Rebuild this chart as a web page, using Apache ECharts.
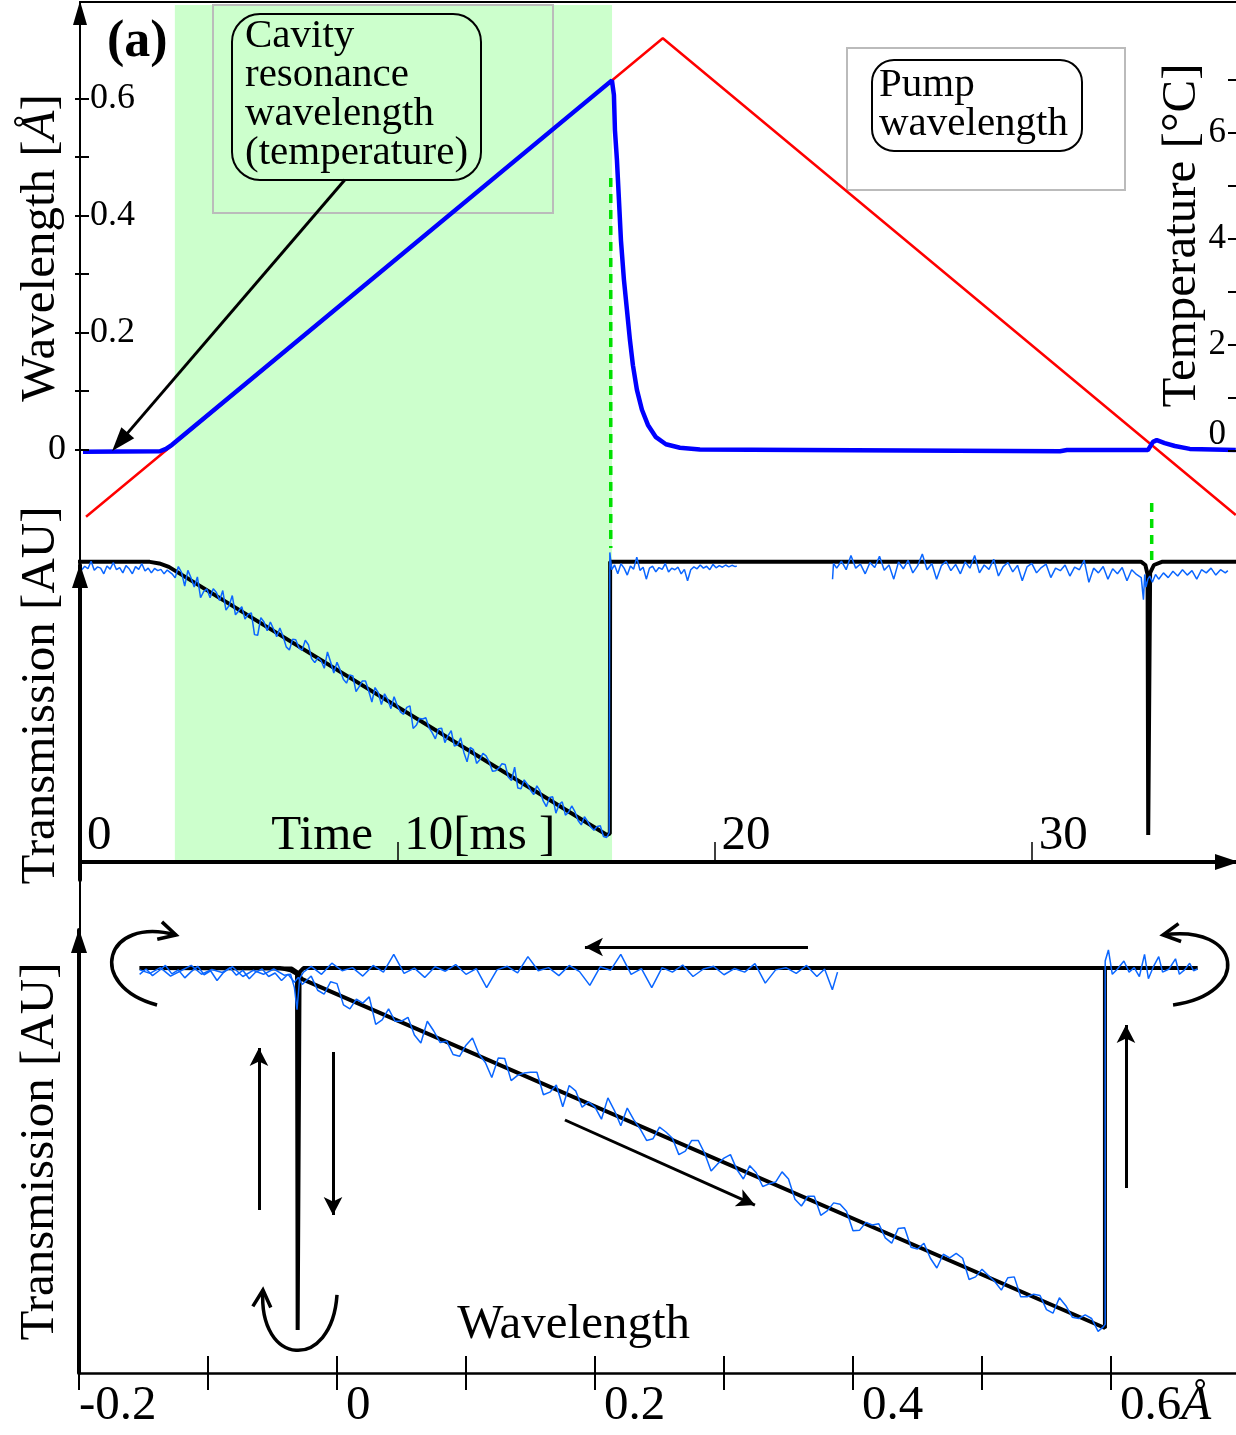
<!DOCTYPE html>
<html>
<head>
<meta charset="utf-8">
<script src="https://cdn.jsdelivr.net/npm/echarts@6/dist/echarts.min.js"></script>
<style>
html, body { margin: 0; padding: 0; background: #fff; }
#main { width: 1236px; height: 1435px; }
</style>
</head>
<body>
<div id="main"></div>
<script>
var FONT = 'Liberation Serif';
var dom = document.getElementById('main');
var chart = echarts.init(dom, null, { renderer: 'canvas' });

// tick labels
var timeTicks = [0, 10, 20, 30];
var timeTickText = ['0', '10[ms ]', '20', '30'];
var waveTicks = [-0.2, 0, 0.2, 0.4, 0.6];
var waveTickText = ['-0.2', '{p|0}', '{p|0.2}', '{p|0.4}', '{p|0.6}{i|Å}'];
var leftWaveTicks = [0.2, 0.4, 0.6];
var tempTicks = [0, 2, 4, 6];
var tempTickText = ['{z|0}', '2', '4', '6'];

// top panel: [time ms, wavelength A]
var pumpWavelength = [[0.19, -0.115], [18.37, 0.703], [36.43, -0.112]];
var cavityWavelength = [[0.095, -0.004], [2.52, -0.003], [2.71, 0.001], [2.90, 0.008], [16.766, 0.631],
  [16.829, 0.606], [16.861, 0.546], [16.924, 0.495], [16.987, 0.427], [17.05, 0.358], [17.145, 0.29],
  [17.239, 0.239], [17.334, 0.187], [17.428, 0.144], [17.554, 0.102], [17.712, 0.068], [17.901, 0.042],
  [18.153, 0.021], [18.468, 0.009], [18.91, 0.003], [19.54, 0.0], [30.89, -0.003], [31.11, -0.001],
  [33.66, -0.001], [33.82, 0.013], [33.94, 0.016], [34.19, 0.011], [34.51, 0.006], [34.98, 0.001], [36.43, -0.001]];

// middle panel: [time ms, transmission AU]
var transBlack = [[-0.15, 1.01], [2.2, 1.01], [2.5, 1.005], [2.8, 0.994], [16.61, 0.143], [16.70, 0.148],
  [16.71, 1.01], [33.45, 1.01], [33.58, 1.0], [33.65, 0.97], [33.67, 0.143], [33.71, 0.143], [33.73, 0.975],
  [33.85, 1.0], [34.1, 1.01], [36.5, 1.01]];
var transBlueA = [[-0.15,0.99],[-0.05,1.003],[0.05,0.984],[0.15,0.996],[0.25,0.988],[0.35,1.012],[0.45,0.983],[0.55,0.994],[0.65,0.99],[0.75,0.972],[0.85,0.997],[0.95,0.987],[1.05,1.008],[1.15,0.985],[1.25,0.992],[1.35,0.975],[1.45,0.998],[1.55,0.988],[1.65,0.972],[1.75,0.995],[1.85,0.986],[1.95,1.004],[2.05,0.981],[2.15,0.99],[2.25,0.975],[2.35,0.989],[2.45,0.982],[2.55,0.986],[2.65,0.972],[2.75,0.984],
  [2.8,0.988],[2.9,0.972],[3.0,0.959],[3.1,0.995],[3.2,0.977],[3.3,0.933],[3.4,0.983],[3.5,0.959],[3.6,0.93],[3.7,0.962],[3.8,0.896],[3.9,0.916],[4.0,0.924],[4.1,0.896],[4.2,0.925],[4.3,0.913],[4.4,0.887],[4.5,0.919],[4.6,0.857],[4.7,0.871],[4.8,0.903],[4.9,0.842],[5.0,0.854],[5.1,0.868],[5.2,0.828],[5.3,0.844],[5.4,0.848],[5.5,0.779],[5.6,0.777],[5.7,0.833],[5.8,0.819],[5.9,0.791],[6.0,0.819],[6.1,0.797],[6.2,0.772],[6.3,0.8],[6.4,0.774],[6.5,0.74],[6.6,0.73],[6.7,0.764],[6.8,0.763],[6.9,0.737],[7.0,0.729],[7.1,0.761],[7.2,0.747],[7.3,0.703],[7.4,0.69],[7.5,0.706],[7.6,0.696],[7.7,0.672],[7.8,0.724],[7.9,0.692],[8.0,0.657],[8.1,0.691],[8.2,0.667],[8.3,0.637],[8.4,0.625],[8.5,0.651],[8.6,0.648],[8.7,0.598],[8.8,0.614],[8.9,0.632],[9.0,0.632],[9.1,0.6],[9.2,0.565],[9.3,0.611],[9.4,0.595],[9.5,0.557],[9.6,0.591],[9.7,0.573],[9.8,0.544],[9.9,0.582],[10.0,0.554],[10.1,0.534],[10.2,0.526],[10.3,0.548],[10.4,0.553],[10.5,0.481],[10.6,0.491],[10.7,0.513],[10.8,0.511],[10.9,0.515],[11.0,0.484],[11.1,0.468],[11.2,0.448],[11.3,0.48],[11.4,0.482],[11.5,0.436],[11.6,0.458],[11.7,0.474],[11.8,0.425],[11.9,0.429],[12.0,0.451],[12.1,0.405],[12.2,0.375],[12.3,0.421],[12.4,0.414],[12.5,0.37],[12.6,0.382],[12.7,0.402],[12.8,0.394],[12.9,0.374],[13.0,0.345],[13.1,0.347],[13.2,0.355],[13.3,0.369],[13.4,0.367],[13.5,0.327],[13.6,0.316],[13.7,0.358],[13.8,0.292],[13.9,0.29],[14.0,0.318],[14.1,0.304],[14.2,0.285],[14.3,0.271],[14.4,0.299],[14.5,0.283],[14.6,0.251],[14.7,0.233],[14.8,0.262],[14.9,0.264],[15.0,0.212],[15.1,0.24],[15.2,0.248],[15.3,0.206],[15.4,0.215],[15.5,0.235],[15.6,0.217],[15.7,0.189],[15.8,0.175],[15.9,0.201],[16.0,0.186],[16.1,0.168],[16.2,0.158],[16.3,0.17],[16.4,0.172],[16.5,0.138],[16.6,0.135],[16.68,0.15],[16.7,1.04],
  [16.72,1.045],[16.76,0.985],[16.85,1.0],[16.95,0.972],[17.05,1.004],[17.15,0.99],[17.25,0.968],[17.35,0.997],[17.45,0.987],[17.55,1.025],[17.65,0.983],[17.75,0.993],[17.85,0.955],[17.95,0.99],[18.05,0.996],[18.15,0.978],[18.25,0.992],[18.35,0.986],[18.45,1.005],[18.55,0.978],[18.65,0.99],[18.75,0.985],[18.85,0.993],[18.95,0.972],[19.05,0.986],[19.15,0.95],[19.25,0.985],[19.35,0.994],[19.45,0.988],[19.55,1.0],[19.65,0.99],[19.75,0.996],[19.85,0.985],[19.95,1.002],[20.05,0.991],[20.15,0.998],[20.25,0.993],[20.35,1.0],[20.45,0.994],[20.55,0.999],[20.65,0.995],[20.7,0.997]];
var transBlueB = [[23.72,0.955],[23.75,1.005],[23.85,0.99],[24.0,1.012],[24.15,0.985],[24.3,1.03],[24.45,0.99],[24.6,1.003],[24.75,0.972],[24.9,1.008],[25.05,0.992],[25.2,1.028],[25.35,0.983],[25.5,1.0],[25.65,0.955],[25.8,1.01],[25.95,0.988],[26.1,1.015],[26.25,0.975],[26.4,0.997],[26.55,1.035],[26.7,0.985],[26.85,1.005],[27.0,0.955],[27.15,0.998],[27.3,1.012],[27.45,0.982],[27.6,1.002],[27.75,0.972],[27.9,1.01],[28.05,0.99],[28.2,1.03],[28.35,0.975],[28.5,1.0],[28.65,0.986],[28.8,1.018],[28.95,0.965],[29.1,0.995],[29.25,1.008],[29.4,0.978],[29.55,0.999],[29.7,0.95],[29.85,0.994],[30.0,1.005],[30.15,0.975],[30.3,0.992],[30.45,1.003],[30.6,0.96],[30.75,0.99],[30.9,0.982],[31.05,1.0],[31.2,0.965],[31.35,0.993],[31.5,0.985],[31.65,1.015],[31.8,0.945],[31.95,0.99],[32.1,0.975],[32.25,0.995],[32.4,0.955],[32.55,0.988],[32.7,0.972],[32.85,0.992],[33.0,0.95],[33.15,0.985],[33.3,0.97],[33.45,0.96],[33.52,0.89],[33.56,0.97],[33.6,0.93],[33.66,0.955],[33.72,0.965],[33.8,0.945],[33.9,0.97],[34.0,0.955],[34.15,0.975],[34.3,0.96],[34.45,0.98],[34.6,0.965],[34.75,0.985],[34.9,0.968],[35.05,0.982],[35.2,0.955],[35.35,0.985],[35.5,0.975],[35.65,0.99],[35.8,0.968],[35.95,0.985],[36.1,0.975],[36.18,0.982]];

// bottom panel: [wavelength A, transmission AU]
var loopBlackUp = [[-0.153, 0.914], [-0.044, 0.914], [-0.036, 0.909], [-0.03, 0.899], [-0.027, 0.889],
  [0.5953, 0.1016], [0.5953, 0.914], [0.667, 0.914]];
var loopBlackDown = [[-0.153, 0.914], [-0.035, 0.913], [-0.031, 0.905], [-0.0305, 0.097], [-0.0295, 0.097],
  [-0.029, 0.905], [-0.026, 0.914], [0.667, 0.914]];
var loopBlueUp = [[-0.153,0.9],[-0.148,0.912],[-0.143,0.897],[-0.138,0.908],[-0.133,0.92],[-0.128,0.901],[-0.123,0.91],[-0.118,0.892],[-0.113,0.906],[-0.108,0.918],[-0.103,0.899],[-0.098,0.908],[-0.093,0.886],[-0.088,0.904],[-0.083,0.915],[-0.078,0.898],[-0.073,0.909],[-0.068,0.89],[-0.063,0.905],[-0.058,0.912],[-0.053,0.895],[-0.048,0.903],[-0.043,0.886],[-0.038,0.9],[-0.033,0.882],[-0.03,0.893],[-0.027,0.877],
  [-0.02,0.896],[-0.015,0.864],[-0.01,0.855],[-0.005,0.883],[0,0.879],[0.005,0.831],[0.01,0.822],[0.015,0.844],[0.02,0.835],[0.025,0.849],[0.03,0.787],[0.035,0.797],[0.04,0.822],[0.045,0.794],[0.05,0.794],[0.055,0.803],[0.06,0.763],[0.065,0.745],[0.07,0.794],[0.075,0.772],[0.08,0.746],[0.085,0.749],[0.09,0.719],[0.095,0.715],[0.1,0.74],[0.105,0.756],[0.11,0.72],[0.115,0.701],[0.12,0.667],[0.125,0.711],[0.13,0.71],[0.135,0.66],[0.14,0.672],[0.145,0.677],[0.15,0.679],[0.155,0.679],[0.16,0.628],[0.165,0.634],[0.17,0.65],[0.175,0.601],[0.18,0.649],[0.185,0.637],[0.19,0.6],[0.195,0.612],[0.2,0.6],[0.205,0.573],[0.21,0.621],[0.215,0.593],[0.22,0.558],[0.225,0.598],[0.23,0.572],[0.235,0.551],[0.24,0.525],[0.245,0.529],[0.25,0.555],[0.255,0.544],[0.26,0.53],[0.265,0.493],[0.27,0.501],[0.275,0.525],[0.28,0.525],[0.285,0.496],[0.29,0.456],[0.295,0.472],[0.3,0.485],[0.305,0.493],[0.31,0.459],[0.315,0.438],[0.32,0.468],[0.325,0.452],[0.33,0.421],[0.335,0.427],[0.34,0.431],[0.345,0.454],[0.35,0.438],[0.355,0.392],[0.36,0.377],[0.365,0.399],[0.37,0.399],[0.375,0.356],[0.38,0.366],[0.385,0.384],[0.39,0.381],[0.395,0.365],[0.4,0.321],[0.405,0.322],[0.41,0.34],[0.415,0.334],[0.42,0.337],[0.425,0.305],[0.43,0.293],[0.435,0.326],[0.44,0.328],[0.445,0.284],[0.45,0.28],[0.455,0.293],[0.46,0.259],[0.465,0.237],[0.47,0.268],[0.475,0.26],[0.48,0.27],[0.485,0.259],[0.49,0.211],[0.495,0.217],[0.5,0.234],[0.505,0.22],[0.51,0.206],[0.515,0.187],[0.52,0.215],[0.525,0.217],[0.53,0.172],[0.535,0.172],[0.54,0.178],[0.545,0.175],[0.55,0.143],[0.555,0.135],[0.56,0.17],[0.565,0.152],[0.57,0.126],[0.575,0.123],[0.58,0.131],[0.585,0.123],[0.59,0.094],[0.594,0.104],[0.5955,0.11],[0.5955,0.93],
  [0.598,0.955],[0.601,0.9],[0.605,0.912],[0.61,0.93],[0.614,0.905],[0.618,0.915],[0.622,0.895],[0.626,0.945],[0.629,0.89],[0.633,0.918],[0.637,0.94],[0.64,0.905],[0.645,0.912],[0.65,0.935],[0.653,0.9],[0.657,0.91],[0.661,0.925],[0.664,0.908],[0.667,0.912]];
var loopBlueDown = [[-0.153,0.91],[-0.145,0.902],[-0.137,0.915],[-0.129,0.896],[-0.121,0.908],[-0.113,0.92],[-0.105,0.9],[-0.097,0.911],[-0.089,0.904],[-0.081,0.917],[-0.073,0.895],[-0.065,0.909],[-0.057,0.9],[-0.049,0.912],[-0.041,0.898],[-0.036,0.9],[-0.033,0.87],[-0.031,0.82],[-0.029,0.89],[-0.026,0.905],
  [-0.02,0.918],[-0.012,0.9],[-0.004,0.925],[0.004,0.908],[0.012,0.915],[0.02,0.896],[0.028,0.92],[0.036,0.905],[0.044,0.945],[0.052,0.902],[0.06,0.914],[0.068,0.893],[0.076,0.917],[0.084,0.907],[0.092,0.922],[0.1,0.9],[0.108,0.913],[0.116,0.87],[0.124,0.91],[0.132,0.918],[0.14,0.903],[0.148,0.94],[0.156,0.908],[0.164,0.915],[0.172,0.897],[0.18,0.92],[0.188,0.906],[0.196,0.875],[0.204,0.917],[0.212,0.909],[0.22,0.945],[0.228,0.9],[0.236,0.913],[0.244,0.87],[0.252,0.915],[0.26,0.905],[0.268,0.921],[0.276,0.895],[0.284,0.912],[0.292,0.918],[0.3,0.899],[0.308,0.913],[0.316,0.905],[0.324,0.924],[0.332,0.88],[0.34,0.91],[0.348,0.915],[0.356,0.902],[0.364,0.92],[0.372,0.895],[0.378,0.912],[0.384,0.865],[0.388,0.905]];

// annotations (data coordinates)
var greenZone = [2.99, 16.77];
var dashA = [[16.73, 0.8103], [16.73, 0.4116]];
var dashB = [[33.78, 0.4601], [33.78, 0.3987]];
var topArrows = [[[8.35, 0.461], [1.26, 0.013]], [[24.96, 0.603], [23.42, 0.495]]];
var loopArrows = [[[0.3651, 0.9616], [0.1922, 0.9616]], [[-0.0605, 0.368], [-0.0605, 0.7336]],
  [[-0.0031, 0.7246], [-0.0031, 0.3567]], [[0.1767, 0.5711], [0.324, 0.3792]], [[0.6116, 0.4176], [0.6116, 0.7856]]];
// [start, end, bulge relative to chord (sign = side)]
var loopTurns = [[[-0.1395, 0.8307], [-0.1248, 0.9887], 0.77], [[0.6481, 0.8307], [0.6403, 0.9887], -0.85],
  [[0.0, 0.1761], [-0.0574, 0.1874], 0.78]];

function findLabel(v, ticks, texts) {
  for (var i = 0; i < ticks.length; i++) {
    if (Math.abs(ticks[i] - v) < 1e-6) return texts[i];
  }
  return '';
}

function arrowLines(list) {
  return list.map(function (p) { return [{ coord: p[0] }, { coord: p[1] }]; });
}

var blk = '#000';
var blueNoise = '#0a66ff';
var option = {
  animation: false,
  backgroundColor: '#fff',
  textStyle: { fontFamily: FONT, color: blk },
  grid: [
    { left: 80, top: 2, width: 1158, height: 928, outerBoundsMode: 'none' },
    { left: 80, top: 98.5, width: 1158, height: 351, outerBoundsMode: 'none' },
    { left: 80, right: 0, top: 80, height: 371, outerBoundsMode: 'none' },
    { left: 80, top: 565, width: 1158, height: 315, outerBoundsMode: 'none' },
    { left: 79, top: 930, width: 1161, height: 443, outerBoundsMode: 'none' }
  ],
  xAxis: [
    { gridIndex: 0, type: 'value', min: 0, max: 36.5, position: 'top', z: 5,
      axisLine: { show: true, onZero: false, lineStyle: { color: blk, width: 2 } },
      axisTick: { show: false }, axisLabel: { show: false }, splitLine: { show: false } },
    { gridIndex: 1, type: 'value', min: 0, max: 36.5, show: false },
    { gridIndex: 2, type: 'value', min: 0, max: 1, show: false },
    { gridIndex: 3, type: 'value', min: 0, max: 36.5, interval: 10, position: 'bottom', offset: -18, z: 5,
      name: 'Time', nameLocation: 'start', nameGap: -293, nameMoveOverlap: false,
      nameTextStyle: { fontSize: 49, color: blk, fontFamily: FONT, verticalAlign: 'bottom', lineHeight: 48, padding: [0, 0, 2, 0] },
      axisLine: { show: true, onZero: false, symbol: ['none', 'triangle'], symbolSize: [16, 24], symbolOffset: [0, -11],
        lineStyle: { color: blk, width: 4 } },
      axisTick: { show: true, inside: true, length: 20, lineStyle: { color: blk, width: 1.5 } },
      axisLabel: { show: true, inside: true, margin: 2, align: 'left', verticalAlign: 'bottom', padding: [0, 0, 0, 7],
        fontSize: 49, lineHeight: 48, color: blk, fontFamily: FONT,
        formatter: function (v) { return findLabel(v, timeTicks, timeTickText); } },
      splitLine: { show: false } },
    { gridIndex: 4, type: 'value', min: -0.2, max: 0.7, interval: 0.1, position: 'bottom', z: 5,
      name: 'Wavelength', nameLocation: 'start', nameGap: -611, nameMoveOverlap: false,
      nameTextStyle: { fontSize: 49, color: blk, fontFamily: FONT, verticalAlign: 'bottom', lineHeight: 48, padding: [0, 0, 24, 0] },
      axisLine: { show: true, onZero: false, lineStyle: { color: blk, width: 2.5 } },
      axisTick: { show: true, inside: false, length: 17, lineStyle: { color: blk, width: 2 } },
      axisLabel: { show: true, margin: 9, align: 'left', verticalAlign: 'top',
        fontSize: 49, lineHeight: 48, color: blk, fontFamily: FONT,
        rich: { p: { padding: [0, 0, 0, 9], fontSize: 49, fontFamily: FONT, color: blk },
          i: { fontStyle: 'italic', fontSize: 49, fontFamily: FONT, color: blk } },
        formatter: function (v) { return findLabel(v, waveTicks, waveTickText); } },
      splitLine: { show: false } },
    { gridIndex: 4, type: 'value', min: -0.2, max: 0.7, interval: 0.1, position: 'bottom', z: 5,
      axisLine: { show: false, onZero: false },
      axisTick: { show: true, inside: true, length: 17, lineStyle: { color: blk, width: 2 } },
      axisLabel: { show: false }, splitLine: { show: false } }
  ],
  yAxis: [
    { gridIndex: 0, type: 'value', min: 0, max: 1, position: 'left', z: 5,
      axisLine: { show: true, onZero: false, symbol: ['none', 'triangle'], symbolSize: [14, 24], symbolOffset: [0, -11],
        lineStyle: { color: blk, width: 2 } },
      axisTick: { show: false }, axisLabel: { show: false }, splitLine: { show: false } },
    { gridIndex: 1, type: 'value', min: 0, max: 0.6, interval: 0.1, position: 'left', z: 5,
      name: 'Wavelength [{i|Å}]', nameLocation: 'middle', nameGap: 14, nameMoveOverlap: false,
      nameTextStyle: { fontSize: 49, color: blk, fontFamily: FONT, padding: [0, 0, 0, 52],
        rich: { i: { fontStyle: 'italic', fontSize: 49, fontFamily: FONT, color: blk } } },
      axisLine: { show: false, onZero: false },
      axisTick: { show: true, inside: true, length: 9, lineStyle: { color: blk, width: 2 } },
      axisLabel: { show: true, inside: true, margin: 10, fontSize: 36, color: blk, fontFamily: FONT,
        formatter: function (v) { return findLabel(v, leftWaveTicks, ['0.2', '0.4', '0.6']); } },
      splitLine: { show: false } },
    { gridIndex: 1, type: 'value', min: 0, max: 0.6, interval: 0.1, position: 'left', z: 5,
      axisLine: { show: false, onZero: false },
      axisTick: { show: true, inside: false, length: 5, lineStyle: { color: blk, width: 2 } },
      axisLabel: { show: true, margin: 14, fontSize: 36, color: blk, fontFamily: FONT,
        formatter: function (v) { return findLabel(v, [0], ['0']); } },
      splitLine: { show: false } },
    { gridIndex: 2, type: 'value', min: 0, max: 7, interval: 1, position: 'right', z: 5,
      name: 'Temperature [°C]', nameLocation: 'middle', nameGap: -78, nameMoveOverlap: false,
      nameTextStyle: { fontSize: 49, color: blk, fontFamily: FONT, padding: [0, 0, 0, 60] },
      axisLine: { show: false, onZero: false },
      axisTick: { show: true, inside: true, length: 8, lineStyle: { color: blk, width: 2 } },
      axisLabel: { show: true, inside: true, margin: 10, fontSize: 35, color: blk, fontFamily: FONT,
        rich: { z: { padding: [0, 0, 32, 0], fontSize: 35, fontFamily: FONT, color: blk } },
        formatter: function (v) { return findLabel(v, tempTicks, tempTickText); } },
      splitLine: { show: false } },
    { gridIndex: 3, type: 'value', min: 0, max: 1, position: 'left', z: 5,
      name: 'Transmission [AU]', nameLocation: 'middle', nameGap: 14, nameMoveOverlap: false,
      nameTextStyle: { fontSize: 49, color: blk, fontFamily: FONT, padding: [0, 0, 0, 54] },
      axisLine: { show: true, onZero: false, symbol: ['none', 'triangle'], symbolSize: [16, 24], symbolOffset: [0, -11],
        lineStyle: { color: blk, width: 4 } },
      axisTick: { show: false }, axisLabel: { show: false }, splitLine: { show: false } },
    { gridIndex: 4, type: 'value', min: 0, max: 1, position: 'left', z: 5,
      name: 'Transmission [AU]', nameLocation: 'middle', nameGap: 14, nameMoveOverlap: false,
      nameTextStyle: { fontSize: 49, color: blk, fontFamily: FONT, padding: [0, 0, 0, 0] },
      axisLine: { show: true, onZero: false, symbol: ['none', 'triangle'], symbolSize: [16, 24], symbolOffset: [0, -11],
        lineStyle: { color: blk, width: 4 } },
      axisTick: { show: false }, axisLabel: { show: false }, splitLine: { show: false } }
  ],
  series: [
    { type: 'line', xAxisIndex: 0, yAxisIndex: 0, data: dashA, showSymbol: false, symbol: 'none', silent: true, z: 3,
      lineStyle: { color: '#00e000', width: 3.5, type: [9, 7] },
      markArea: { silent: true, z: 0, itemStyle: { color: '#ccffcc' },
        data: [[{ xAxis: greenZone[0], yAxis: 0.0733 }, { xAxis: greenZone[1], yAxis: 0.9968 }]] } },
    { type: 'line', xAxisIndex: 0, yAxisIndex: 0, data: dashB, showSymbol: false, symbol: 'none', silent: true, z: 3,
      lineStyle: { color: '#00e000', width: 3.5, type: [9, 7] } },
    { type: 'line', xAxisIndex: 1, yAxisIndex: 1, data: pumpWavelength, showSymbol: false, symbol: 'none', silent: true,
      clip: false, z: 2, lineStyle: { color: '#ff0000', width: 2.5 },
      markLine: { silent: true, symbol: ['none', 'triangle'], symbolSize: [17, 24], label: { show: false },
        lineStyle: { color: blk, width: 3, type: 'solid' }, data: arrowLines(topArrows) } },
    { type: 'line', xAxisIndex: 1, yAxisIndex: 1, data: cavityWavelength, showSymbol: false, symbol: 'none', silent: true,
      clip: false, z: 3, lineStyle: { color: '#0000ff', width: 4.5 } },
    { type: 'line', xAxisIndex: 3, yAxisIndex: 4, data: transBlack, showSymbol: false, symbol: 'none', silent: true,
      clip: false, z: 2, lineStyle: { color: blk, width: 4 } },
    { type: 'line', xAxisIndex: 3, yAxisIndex: 4, data: transBlueA, showSymbol: false, symbol: 'none', silent: true,
      clip: false, z: 3, lineStyle: { color: blueNoise, width: 1.5 } },
    { type: 'line', xAxisIndex: 3, yAxisIndex: 4, data: transBlueB, showSymbol: false, symbol: 'none', silent: true,
      clip: false, z: 3, lineStyle: { color: blueNoise, width: 1.5 } },
    { type: 'line', xAxisIndex: 4, yAxisIndex: 5, data: loopBlackUp, showSymbol: false, symbol: 'none', silent: true,
      clip: false, z: 2, lineStyle: { color: blk, width: 4 },
      markLine: { silent: true, symbol: ['none', 'arrow'], symbolSize: [14, 18], label: { show: false },
        lineStyle: { color: blk, width: 3, type: 'solid' }, data: arrowLines(loopArrows) } },
    { type: 'line', xAxisIndex: 4, yAxisIndex: 5, data: loopBlackDown, showSymbol: false, symbol: 'none', silent: true,
      clip: false, z: 2, lineStyle: { color: blk, width: 4 } },
    { type: 'line', xAxisIndex: 4, yAxisIndex: 5, data: loopBlueUp, showSymbol: false, symbol: 'none', silent: true,
      clip: false, z: 3, lineStyle: { color: blueNoise, width: 1.5 } },
    { type: 'line', xAxisIndex: 4, yAxisIndex: 5, data: loopBlueDown, showSymbol: false, symbol: 'none', silent: true,
      clip: false, z: 3, lineStyle: { color: blueNoise, width: 1.5 } }
  ],
  graphic: [
    { id: 'box1', type: 'rect', z: 1, silent: true, shape: { x: 213, y: 5, width: 340, height: 208 },
      style: { fill: 'none', stroke: '#bbbbbb', lineWidth: 2 } },
    { id: 'box2', type: 'rect', z: 1, silent: true, shape: { x: 847, y: 48, width: 278, height: 142 },
      style: { fill: 'none', stroke: '#bbbbbb', lineWidth: 2 } },
    { id: 'tag1', type: 'rect', z: 1, silent: true, shape: { x: 232, y: 14, width: 249, height: 166, r: 28 },
      style: { fill: 'none', stroke: blk, lineWidth: 2 } },
    { id: 'tag2', type: 'rect', z: 1, silent: true, shape: { x: 872, y: 60, width: 210, height: 91, r: 22 },
      style: { fill: 'none', stroke: blk, lineWidth: 2 } },
    { id: 'txt1', type: 'text', z: 1, silent: true, x: 245, y: 17,
      style: { text: 'Cavity\nresonance\nwavelength\n(temperature)', font: '41px "Liberation Serif"', fill: blk,
        lineHeight: 39, verticalAlign: 'top', align: 'left' } },
    { id: 'txt2', type: 'text', z: 1, silent: true, x: 879, y: 66,
      style: { text: 'Pump\nwavelength', font: '41px "Liberation Serif"', fill: blk,
        lineHeight: 39, verticalAlign: 'top', align: 'left' } },
    { id: 'tagA', type: 'text', z: 1, silent: true, x: 107, y: 43,
      style: { text: '(a)', font: 'bold 52px "Liberation Serif"', fill: blk, verticalAlign: 'middle', align: 'left' } }
  ]
};
chart.setOption(option);

// curved turn-around arrows of the loop, placed through the loop grid's scales
function turnArrow(k, p) {
  var a = chart.convertToPixel({ xAxisIndex: 4, yAxisIndex: 5 }, p[0]);
  var b = chart.convertToPixel({ xAxisIndex: 4, yAxisIndex: 5 }, p[1]);
  var dx = b[0] - a[0], dy = b[1] - a[1];
  var chord = Math.sqrt(dx * dx + dy * dy);
  var nx = dy / chord, ny = -dx / chord;           // unit normal
  var k4 = 4 / 3 * p[2] * chord;                   // cubic handle for the bulge
  var c1 = [a[0] + k4 * nx, a[1] + k4 * ny];
  var c2 = [b[0] + k4 * nx, b[1] + k4 * ny];
  var tx = b[0] - c2[0], ty = b[1] - c2[1];
  var tl = Math.sqrt(tx * tx + ty * ty);
  tx /= tl; ty /= tl;
  var hl = 17, hw = 9;
  var l = [b[0] - hl * tx + hw * ty, b[1] - hl * ty - hw * tx];
  var r = [b[0] - hl * tx - hw * ty, b[1] - hl * ty + hw * tx];
  return [
    { id: 'turn' + k, type: 'bezierCurve', z: 4, silent: true,
      shape: { x1: a[0], y1: a[1], x2: b[0], y2: b[1], cpx1: c1[0], cpy1: c1[1], cpx2: c2[0], cpy2: c2[1] },
      style: { stroke: blk, lineWidth: 3.5, fill: 'none' } },
    { id: 'head' + k, type: 'polyline', z: 4, silent: true,
      shape: { points: [l, b, r] },
      style: { stroke: blk, lineWidth: 3.5, fill: 'none' } }
  ];
}
var extra = [];
loopTurns.forEach(function (p, k) { extra = extra.concat(turnArrow(k, p)); });
chart.setOption({ graphic: option.graphic.concat(extra) });
</script>
</body>
</html>
